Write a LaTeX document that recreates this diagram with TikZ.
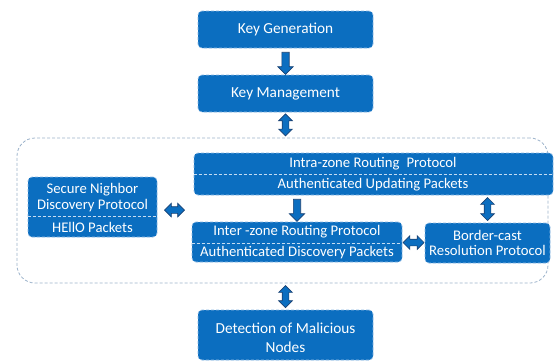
\documentclass[tikz,border=0pt]{standalone}
\usepackage{fontspec}
\setmainfont{Carlito}
\usetikzlibrary{shapes.arrows,calc}
\definecolor{boxblue}{RGB}{11,110,192}
\definecolor{edgeblue}{RGB}{140,185,228}
\definecolor{arrowedge}{RGB}{25,65,115}
\definecolor{zoneline}{RGB}{155,178,202}
\begin{document}
\begin{tikzpicture}[x=1pt,y=-1pt,
  blk/.style={fill=boxblue, draw=edgeblue, dash pattern=on 3pt off 2pt, line width=0.7pt,
              rounded corners=4pt, inner sep=0pt},
  txt/.style={text=white, font=\fontsize{14.7}{17.5}\selectfont, inner sep=0pt, align=center},
  bigtxt/.style={txt, font=\fontsize{15.3}{18}\selectfont},
  divider/.style={draw=edgeblue!50!white, dash pattern=on 3pt off 2pt, line width=0.7pt},
  zonebox/.style={draw=zoneline, dash pattern=on 3pt off 2pt, line width=0.8pt,
                  rounded corners=18pt, inner sep=0pt},
  arrbase/.style={fill=boxblue, draw=arrowedge, line width=0.7pt, inner sep=3.3pt},
  downarr/.style={arrbase, single arrow, shape border rotate=270, minimum height=22pt,
                  minimum width=0pt, single arrow head extend=4pt, single arrow head indent=0pt},
  vdarr/.style={arrbase, double arrow, shape border rotate=90, minimum height=22pt,
                minimum width=0pt, inner sep=3pt, double arrow head extend=3.5pt},
  hdarr/.style={arrbase, double arrow, minimum height=21pt,
                minimum width=0pt, inner sep=3pt, double arrow head extend=3.5pt}
]
\useasboundingbox (0,0) rectangle (555,360);

% top chain
\node[blk, minimum width=175pt, minimum height=37pt] (kg) at (285.5,29.5) {};
\node[bigtxt] (kgt) at (kg.center) {Key Generation};
\node[blk, minimum width=175pt, minimum height=37pt] (km) at (285.5,93.5) {};
\node[bigtxt] (kmt) at (km.center) {Key Management};

% dashed zone frame
\node[zonebox, minimum width=531pt, minimum height=145pt] (zone) at (282.5,210.5) {};

% secure neighbour discovery
\node[blk, minimum width=129pt, minimum height=60pt] (sn) at (92.5,207) {};
\draw[divider] ($(sn.west)+(0,9)$) -- ($(sn.east)+(0,9)$);
\node[txt] (snt) at (92.5,197.5) {Secure Nighbor\\[-2pt]Discovery Protocol};
\node[txt] (snp) at (92.5,227) {HEllO Packets};

% intra-zone routing
\node[blk, minimum width=359pt, minimum height=42pt] (intra) at (373.5,174) {};
\draw[divider] (intra.west) -- (intra.east);
\node[txt] (intrat) at (373,164) {Intra-zone Routing\hspace{0.25em} Protocol};
\node[txt] (intrap) at (373,185) {Authenticated Updating Packets};

% inter-zone routing
\node[blk, minimum width=210pt, minimum height=40pt] (inter) at (297,242) {};
\draw[divider] ($(inter.west)+(0,1)$) -- ($(inter.east)+(0,1)$);
\node[txt] (intert) at (297,231.5) {Inter -zone Routing Protocol};
\node[txt] (interp) at (297,253) {Authenticated Discovery Packets};

% border-cast resolution
\node[blk, minimum width=125pt, minimum height=40pt] (border) at (487.5,243) {};
\node[txt] (bordert) at (border.center) {Border-cast\\[-2pt]Resolution Protocol};

% detection
\node[blk, minimum width=175pt, minimum height=50pt] (det) at (285.5,335) {};
\node[bigtxt] (dett) at (285.5,338) {Detection of Malicious\\[1pt]Nodes};

% block arrows between the stages
\node[downarr] (a1) at ($(kg.south)!0.5!(km.north)$) {};
\node[vdarr] (a2) at ($(km.south)!0.5!(km.south |- zone.north)$) {};
\node[vdarr] (a3) at ($(det.north)!0.5!(det.north |- zone.south)$) {};
\node[hdarr, minimum height=20pt] (a4) at ($(sn.east)!0.5!(sn.east -| inter.west)+(0,3)$) {};
\node[downarr] (a5) at ($(inter.north)!0.5!(inter.north |- intra.south)$) {};
\node[vdarr, minimum height=23pt] (a6) at ($(border.north)!0.5!(border.north |- intra.south)$) {};
\node[hdarr] (a7) at ($(inter.east)!0.5!(border.west)$) {};
\end{tikzpicture}
\end{document}
